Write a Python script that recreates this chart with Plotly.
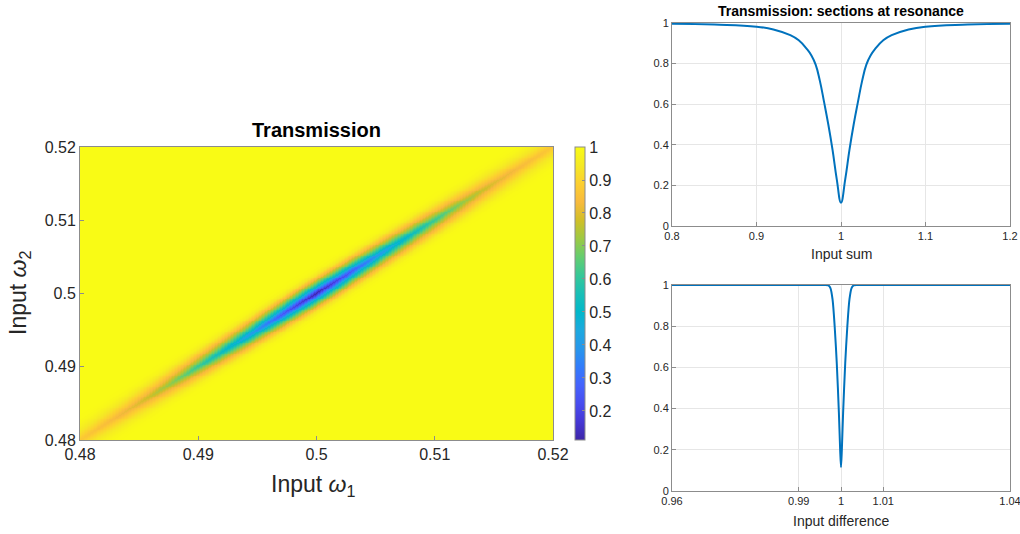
import numpy as np
import plotly.graph_objects as go

# ---- Data ----
# Section along the input sum (at zero detuning)
sum_x = [0.80, 0.85, 0.90, 0.92, 0.94, 0.95, 0.96, 0.965, 0.97, 0.975, 0.98, 0.985, 0.99, 0.995, 1.0,
         1.005, 1.01, 1.015, 1.02, 1.025, 1.03, 1.035, 1.04, 1.05, 1.06, 1.08, 1.10, 1.15, 1.20]
sum_t = [0.996, 0.992, 0.982, 0.968, 0.940, 0.915, 0.870, 0.840, 0.795, 0.715, 0.61, 0.50, 0.375, 0.23, 0.115,
         0.23, 0.375, 0.50, 0.61, 0.715, 0.795, 0.840, 0.870, 0.915, 0.940, 0.968, 0.982, 0.992, 0.996]

# Section along the input difference (at resonance)
diff_x = [0.96, 0.99, 0.996, 0.997, 0.9975, 0.998, 0.9985, 0.999, 0.9995, 0.9998, 1.0,
          1.0002, 1.0005, 1.001, 1.0015, 1.002, 1.0025, 1.003, 1.004, 1.01, 1.04]
diff_t = [1.0, 1.0, 1.0, 0.998, 0.985, 0.93, 0.80, 0.62, 0.38, 0.20, 0.115,
          0.20, 0.38, 0.62, 0.80, 0.93, 0.985, 0.998, 1.0, 1.0, 1.0]

# Heatmap axes
w1 = np.linspace(0.48, 0.52, 321)
w2 = np.linspace(0.48, 0.52, 321)

heat_ticks = [0.48, 0.49, 0.50, 0.51, 0.52]
heat_ticktext = ["0.48", "0.49", "0.5", "0.51", "0.52"]
cbar_ticks = [0.2, 0.3, 0.4, 0.5, 0.6, 0.7, 0.8, 0.9, 1.0]
sum_ticks = [0.8, 0.9, 1.0, 1.1, 1.2]
sum_ticktext = ["0.8", "0.9", "1", "1.1", "1.2"]
diff_ticks = [0.96, 0.99, 1.0, 1.01, 1.04]
diff_ticktext = ["0.96", "0.99", "1", "1.01", "1.04"]
y_ticks = [0, 0.2, 0.4, 0.6, 0.8, 1.0]
y_ticktext = ["0", "0.2", "0.4", "0.6", "0.8", "1"]

# Build the transmission map from the two read sections
W1, W2 = np.meshgrid(w1, w2)
S = W1 + W2
D = 1.0 + (W1 - W2) * 0.8
t_min = min(sum_t)
Ts = np.interp(S, sum_x, sum_t)
Td = np.interp(D, diff_x, diff_t)
Z = 1.0 - (1.0 - Ts) * (1.0 - Td) / (1.0 - t_min)
Z = np.round(Z, 4)

parula = [
    (0.2422, 0.1504, 0.6603), (0.2706, 0.2147, 0.8364), (0.2813, 0.3006, 0.9414),
    (0.2699, 0.3892, 0.9906), (0.1963, 0.4847, 0.9892), (0.1540, 0.5902, 0.9218),
    (0.1113, 0.6630, 0.8763), (0.0036, 0.7203, 0.7917), (0.0964, 0.7500, 0.7120),
    (0.2161, 0.7843, 0.5923), (0.3909, 0.8029, 0.4354), (0.6174, 0.7876, 0.2612),
    (0.8203, 0.7498, 0.1535), (0.9728, 0.7298, 0.2394), (0.9892, 0.8136, 0.1885),
    (0.9597, 0.9135, 0.1423), (0.9769, 0.9839, 0.0805),
]
n = len(parula)
colorscale = [[i / (n - 1), "rgb(%d,%d,%d)" % tuple(int(round(c * 255)) for c in col)]
              for i, col in enumerate(parula)]

FONT = "Liberation Sans, Arial, sans-serif"
TXT = "#262626"
AXC = "#8c8c8c"
BLUE = "rgb(0,114,189)"

fig = go.Figure()

fig.add_trace(go.Heatmap(
    x=w1, y=w2, z=Z, colorscale=colorscale, zmin=0.112, zmax=1.0,
    xaxis="x", yaxis="y", showscale=True, hoverinfo="skip",
    colorbar=dict(
        x=575 / 1020, xanchor="left", y=1 - 440 / 534, yanchor="bottom",
        len=293 / 534, lenmode="fraction", thickness=10, thicknessmode="pixels",
        outlinecolor=AXC, outlinewidth=1, tickvals=cbar_ticks,
        ticktext=["0.2", "0.3", "0.4", "0.5", "0.6", "0.7", "0.8", "0.9", "1"],
        ticks="inside", ticklen=3, tickcolor=AXC,
        tickfont=dict(family=FONT, size=16, color=TXT), xpad=0, ypad=0,
    ),
))

fig.add_trace(go.Scatter(
    x=sum_x, y=sum_t, mode="lines", line=dict(color=BLUE, width=2, shape="spline", smoothing=1.3),
    xaxis="x2", yaxis="y2", showlegend=False, hoverinfo="skip",
))
fig.add_trace(go.Scatter(
    x=diff_x, y=diff_t, mode="lines", line=dict(color=BLUE, width=2, shape="spline", smoothing=0.8),
    xaxis="x3", yaxis="y3", showlegend=False, hoverinfo="skip",
))

def ax(domain, rng, tickvals, ticktext, size, grid, anchor):
    return dict(
        domain=domain, range=rng, tickvals=tickvals, ticktext=ticktext,
        showline=True, linecolor=AXC, linewidth=1, mirror=True,
        ticks="inside", ticklen=4, tickcolor=AXC, automargin=False,
        ticklabeloverflow="allow",
        showgrid=grid, gridcolor="#e6e6e6", gridwidth=1, zeroline=False,
        tickfont=dict(family=FONT, size=size, color=TXT), anchor=anchor,
    )

fig.update_layout(
    width=1020, height=534, margin=dict(l=0, r=0, t=0, b=0, autoexpand=False),
    paper_bgcolor="white", plot_bgcolor="white", showlegend=False,
    xaxis=ax([80 / 1020, 553 / 1020], [0.48, 0.52], heat_ticks, heat_ticktext, 16, False, "y"),
    yaxis=ax([1 - 440 / 534, 1 - 147 / 534], [0.48, 0.52], heat_ticks, heat_ticktext, 16, False, "x"),
    xaxis2=ax([672 / 1020, 1010 / 1020], [0.8, 1.2], sum_ticks, sum_ticktext, 11, True, "y2"),
    yaxis2=ax([1 - 226 / 534, 1 - 23 / 534], [0, 1], y_ticks, y_ticktext, 11, True, "x2"),
    xaxis3=ax([672 / 1020, 1010 / 1020], [0.96, 1.04], diff_ticks, diff_ticktext, 11, True, "y3"),
    yaxis3=ax([1 - 491 / 534, 1 - 285 / 534], [0, 1], y_ticks, y_ticktext, 11, True, "x3"),
)

ann = [
    dict(text="<b>Transmission</b>", x=316.5 / 1020, y=1 - 130 / 534, size=20),
    dict(text="Input <i>ω</i><sub>1</sub>", x=313 / 1020, y=1 - 485 / 534, size=23),
    dict(text="Input <i>ω</i><sub>2</sub>", x=19 / 1020, y=1 - 293 / 534, size=23, angle=-90),
    dict(text="<b>Transmission: sections at resonance</b>", x=841 / 1020, y=1 - 11 / 534, size=14),
    dict(text="Input sum", x=841 / 1020, y=1 - 254 / 534, size=14),
    dict(text="Input difference", x=841 / 1020, y=1 - 521 / 534, size=14),
]
for a in ann:
    fig.add_annotation(
        text=a["text"], x=a["x"], y=a["y"], xref="paper", yref="paper",
        xanchor="center", yanchor="middle", showarrow=False,
        textangle=a.get("angle", 0),
        font=dict(family=FONT, size=a["size"], color="black" if "<b>" in a["text"] else TXT),
    )

fig.write_html(
    "out.html",
    config={"displayModeBar": False},
    post_script="document.body.style.margin='0';document.body.style.padding='0';"
                "document.body.style.overflow='hidden';",
)
